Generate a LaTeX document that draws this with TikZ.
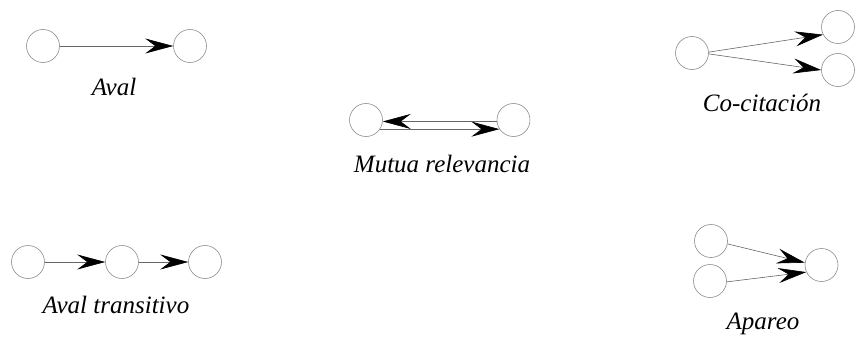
\documentclass[tikz,border=0pt]{standalone}
\usepackage{fontspec}
\setmainfont{Liberation Serif}
\usetikzlibrary{arrows.meta}
\begin{document}
\begin{tikzpicture}[x=1pt,y=-1pt,
  nd/.style={circle,draw=black!45,line width=0.6pt,minimum size=33pt,inner sep=0pt},
  arr/.style={draw=black!60,line width=0.6pt,-{Stealth[length=28pt,width=15pt,inset=10pt,color=black,fill=black]}},
  lbl/.style={font=\fontsize{25}{30}\selectfont\itshape,anchor=base,inner sep=0pt}]
\useasboundingbox (0,0) rectangle (867,353);
% Aval
\node[nd] (a1) at (43,46) {};
\node[nd] (a2) at (190,46) {};
\draw[arr] (a1) -- (a2);
\node[lbl] (la) at (114,95) {Aval};
% Mutua relevancia
\node[nd] (m1) at (366,120) {};
\node[nd] (m2) at (513.5,120) {};
\draw[arr] (m2.185) -- (m1.-5);
\draw[arr] (m1.-33) -- (m2.213);
\node[lbl] (lm) at (442,172) {Mutua relevancia};
% Co-citacion
\node[nd] (c1) at (692,53) {};
\node[nd] (c2) at (838,27) {};
\node[nd] (c3) at (838,70) {};
\draw[arr] (c1.3) -- (c2.207);
\draw[arr] (c1.-3) -- (c3.180);
\node[lbl] (lc) at (762,111) {Co-citación};
% Aval transitivo
\node[nd] (t1) at (28,262) {};
\node[nd] (t2) at (122,262) {};
\node[nd] (t3) at (205,262) {};
\draw[arr] (t1) -- (t2);
\draw[arr] (t2) -- (t3);
\node[lbl] (lt) at (116,313) {Aval transitivo};
% Apareo
\node[nd] (p1) at (711,241) {};
\node[nd] (p2) at (710,281) {};
\node[nd] (p3) at (821.5,265) {};
\draw[arr] (p1.-10) -- (p3.172);
\draw[arr] (p2.-3) -- (p3.205);
\node[lbl] (lp) at (763,329) {Apareo};
\end{tikzpicture}
\end{document}
